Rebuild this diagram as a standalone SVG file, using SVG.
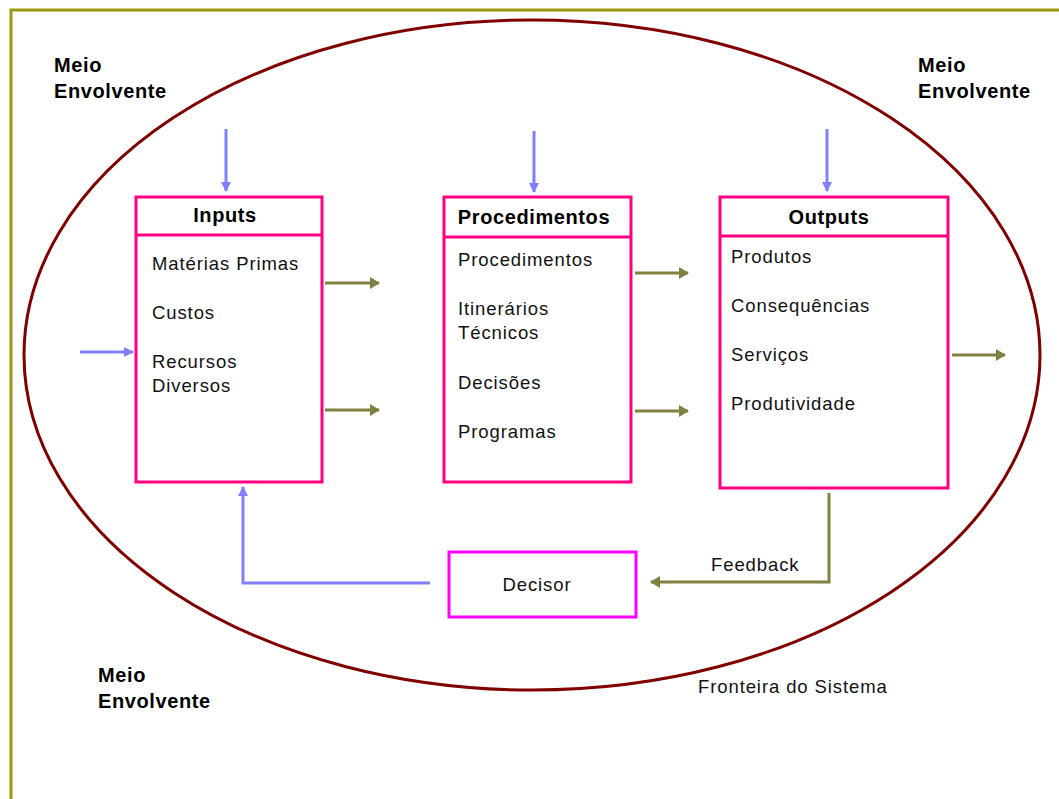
<svg xmlns="http://www.w3.org/2000/svg" width="1059" height="799" viewBox="0 0 1059 799">
<defs>
<style>
.b{font-family:"Liberation Sans",Arial,sans-serif;font-weight:bold;font-size:20px;fill:#000;letter-spacing:0.6px}
.t{font-family:"Liberation Sans",Arial,sans-serif;font-size:18.5px;fill:#111;letter-spacing:0.9px}
.box{fill:#fff;stroke:#ff0080;stroke-width:3}
.blue{stroke:#8080ff;stroke-width:3;fill:none}
.olive{stroke:#808040;stroke-width:3;fill:none}
</style>
<marker id="ab" markerWidth="10" markerHeight="10" refX="9" refY="5" orient="auto" markerUnits="userSpaceOnUse"><path d="M0,0 L10,5 L0,10 Z" fill="#8080ff"/></marker>
<marker id="ao" markerWidth="10" markerHeight="12" refX="9" refY="6" orient="auto" markerUnits="userSpaceOnUse"><path d="M0,0 L10,6 L0,12 Z" fill="#808040"/></marker>
</defs>
<rect width="1059" height="799" fill="#fff"/>
<path d="M11,799 V10 H1059" fill="none" stroke="#999910" stroke-width="3"/>
<ellipse cx="532" cy="355" rx="508" ry="335" fill="none" stroke="#800000" stroke-width="3"/>
<g id="labels">
<text class="b" x="54" y="72">Meio</text><text class="b" x="54" y="98">Envolvente</text>
<text class="b" x="918" y="72">Meio</text><text class="b" x="918" y="98">Envolvente</text>
<text class="b" x="98" y="682">Meio</text><text class="b" x="98" y="708">Envolvente</text>
<text class="t" x="698" y="693">Fronteira do Sistema</text>
<text class="t" x="711" y="571">Feedback</text>
</g>
<g id="connectors">
<line class="blue" x1="226" y1="129" x2="226" y2="191" marker-end="url(#ab)"/>
<line class="blue" x1="534" y1="131" x2="534" y2="192" marker-end="url(#ab)"/>
<line class="blue" x1="827" y1="129" x2="827" y2="191" marker-end="url(#ab)"/>
<line class="blue" x1="80" y1="352" x2="133" y2="352" marker-end="url(#ab)"/>
<polyline class="blue" points="430,583 243,583 243,487" marker-end="url(#ab)"/>
<line class="olive" x1="325" y1="283" x2="379" y2="283" marker-end="url(#ao)"/>
<line class="olive" x1="325" y1="410" x2="379" y2="410" marker-end="url(#ao)"/>
<line class="olive" x1="635" y1="273" x2="688" y2="273" marker-end="url(#ao)"/>
<line class="olive" x1="635" y1="411" x2="688" y2="411" marker-end="url(#ao)"/>
<line class="olive" x1="952" y1="355" x2="1005" y2="355" marker-end="url(#ao)"/>
<polyline class="olive" points="829,493 829,582 651,582" marker-end="url(#ao)"/>
</g>
<g id="inputs">
<rect class="box" x="136" y="197" width="186" height="285"/>
<line x1="136" y1="235" x2="322" y2="235" stroke="#ff0080" stroke-width="3"/>
<text class="b" x="225" y="222" text-anchor="middle">Inputs</text>
<text class="t" x="152" y="270">Matérias Primas</text>
<text class="t" x="152" y="319">Custos</text>
<text class="t" x="152" y="368">Recursos</text>
<text class="t" x="152" y="392">Diversos</text>
</g>
<g id="procedimentos">
<rect class="box" x="444" y="197" width="187" height="285"/>
<line x1="444" y1="237" x2="631" y2="237" stroke="#ff0080" stroke-width="3"/>
<text class="b" x="534" y="224" text-anchor="middle">Procedimentos</text>
<text class="t" x="458" y="266">Procedimentos</text>
<text class="t" x="458" y="315">Itinerários</text>
<text class="t" x="458" y="339">Técnicos</text>
<text class="t" x="458" y="389">Decisões</text>
<text class="t" x="458" y="438">Programas</text>
</g>
<g id="outputs">
<rect class="box" x="720" y="197" width="228" height="291"/>
<line x1="720" y1="236" x2="948" y2="236" stroke="#ff0080" stroke-width="3"/>
<text class="b" x="829" y="224" text-anchor="middle">Outputs</text>
<text class="t" x="731" y="263">Produtos</text>
<text class="t" x="731" y="312">Consequências</text>
<text class="t" x="731" y="361">Serviços</text>
<text class="t" x="731" y="410">Produtividade</text>
</g>
<g id="decisor">
<rect x="449" y="552" width="187" height="65" fill="#fff" stroke="#ff00ff" stroke-width="3"/>
<text class="t" x="537" y="591" text-anchor="middle">Decisor</text>
</g>
</svg>
